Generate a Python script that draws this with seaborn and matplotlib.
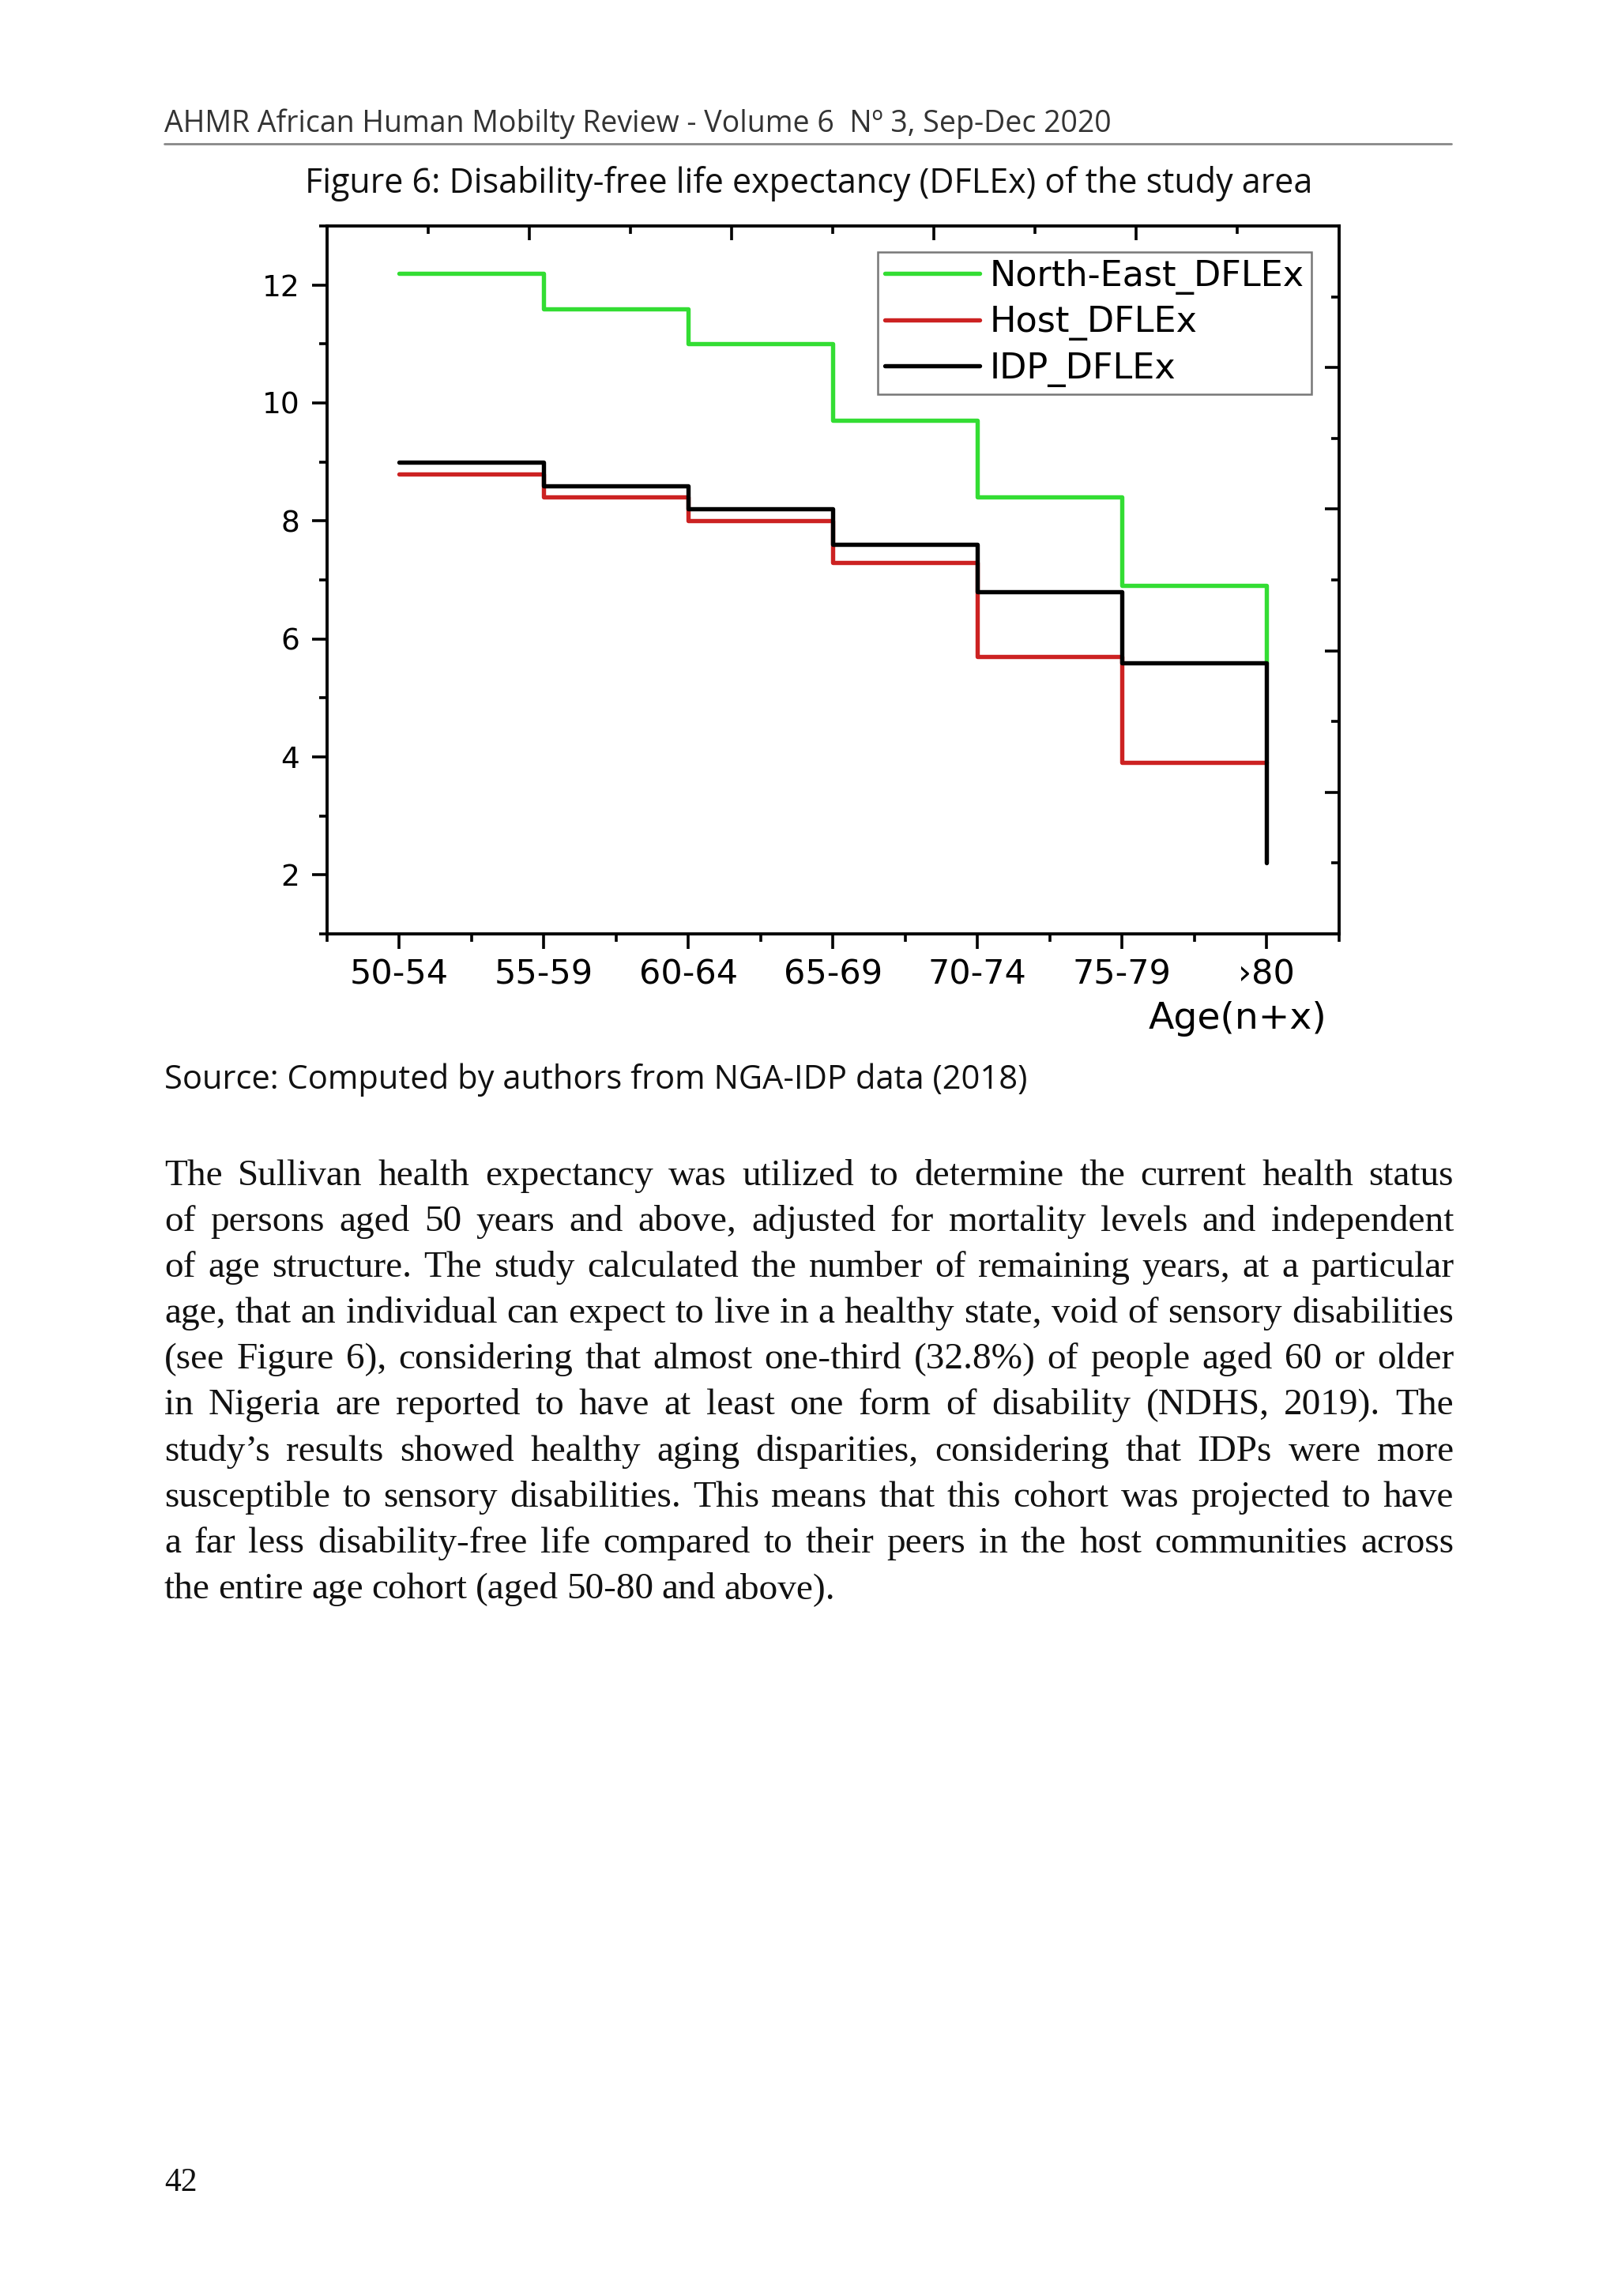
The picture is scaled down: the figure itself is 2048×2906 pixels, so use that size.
import numpy as np
import pandas as pd
import matplotlib
matplotlib.use("Agg")
import matplotlib.pyplot as plt
import seaborn as sns
from matplotlib.lines import Line2D
from matplotlib.ticker import FixedLocator, MultipleLocator

# ---------------- data ----------------
age_groups = ["50-54", "55-59", "60-64", "65-69", "70-74", "75-79", "›80"]
north_east_dflex = [12.2, 11.6, 11.0, 9.7, 8.4, 6.9, 5.6]
host_dflex = [8.8, 8.4, 8.0, 7.3, 5.7, 3.9, 3.9]
idp_dflex = [9.0, 8.6, 8.2, 7.6, 6.8, 5.6, 2.2]
series_names = ["North-East_DFLEx", "Host_DFLEx", "IDP_DFLEx"]
series_colors = ["#33dd33", "#cc2222", "#000000"]
y_ticks = [2, 4, 6, 8, 10, 12]

header_text = "AHMR African Human Mobilty Review - Volume 6  N\u00ba 3, Sep-Dec 2020"
caption_text = "Figure 6: Disability-free life expectancy (DFLEx) of the study area"
source_text = "Source: Computed by authors from NGA-IDP data (2018)"
x_axis_label = "Age(n+x)"
page_number = "42"
body_lines = [
    "The Sullivan health expectancy was utilized to determine the current health status",
    "of persons aged 50 years and above, adjusted for mortality levels and independent",
    "of age structure. The study calculated the number of remaining years, at a particular",
    "age, that an individual can expect to live in a healthy state, void of sensory disabilities",
    "(see Figure 6), considering that almost one-third (32.8%) of people aged 60 or older",
    "in Nigeria are reported to have at least one form of disability (NDHS, 2019). The",
    "study\u2019s results showed healthy aging disparities, considering that IDPs were more",
    "susceptible to sensory disabilities. This means that this cohort was projected to have",
    "a far less disability-free life compared to their peers in the host communities across",
    "the entire age cohort (aged 50-80 and above).",
]

# ---------------- figure ----------------
sns.set_style("white")
plt.rcParams["font.family"] = ["DejaVu Sans"]
plt.rcParams["text.color"] = "black"
plt.rcParams["xtick.color"] = "black"
plt.rcParams["ytick.color"] = "black"
plt.rcParams["axes.labelcolor"] = "black"
W, H, DPI = 2048, 2906, 100
fig = plt.figure(figsize=(W / DPI, H / DPI), dpi=DPI, facecolor="white")
renderer = fig.canvas.get_renderer()

def fx(px):
    return px / W

def fy(py):
    return 1 - py / H

# chart axes
ax = fig.add_axes([fx(414), fy(1182), fx(1694.5) - fx(414), fy(286) - fy(1182)])

rows = []
for name, vals in zip(series_names, [north_east_dflex, host_dflex, idp_dflex]):
    for i, v in enumerate(vals):
        rows.append({"pos": i, "age": age_groups[i], "value": v, "series": name})
df = pd.DataFrame(rows)

sns.lineplot(data=df, x="pos", y="value", hue="series", hue_order=series_names,
             palette=dict(zip(series_names, series_colors)), drawstyle="steps-post",
             linewidth=3.9, sort=False, ax=ax, legend=True)

ax.set_xlim(-0.5, 6.5)
ax.set_ylim(1, 13)
ax.set_xticks(range(len(age_groups)))
ax.set_xticklabels(age_groups, fontsize=31)
ax.xaxis.set_minor_locator(FixedLocator(np.arange(-0.5, 7.0, 1.0)))
ax.set_yticks(y_ticks)
ax.set_yticklabels([str(t) for t in y_ticks], fontsize=27)
ax.yaxis.set_minor_locator(MultipleLocator(1))
ax.set_xlabel("")
ax.set_ylabel("")
ax.tick_params(axis="both", which="major", direction="out", length=14, width=2.6,
               color="black", labelcolor="black", pad=8)
ax.tick_params(axis="y", which="major", pad=11)
ax.tick_params(axis="both", which="minor", direction="out", length=7, width=2.6,
               color="black")
ax.tick_params(left=True, bottom=True, which="both")
for s in ax.spines.values():
    s.set_linewidth(2.8)
    s.set_color("black")

# inward ticks on right and top (secondary scales)
axr = ax.twinx()
axr.set_ylim(ax.get_ylim())
axr.yaxis.set_major_locator(FixedLocator([3.4, 5.8, 8.2, 10.6]))
axr.yaxis.set_minor_locator(FixedLocator([2.2, 4.6, 7.0, 9.4, 11.8]))
axr.set_yticklabels([])
axr.tick_params(axis="y", which="major", direction="in", length=13, width=2.6, right=True)
axr.tick_params(axis="y", which="minor", direction="in", length=7, width=2.6, right=True)
axt = ax.twiny()
axt.set_xlim(ax.get_xlim())
axt.xaxis.set_major_locator(FixedLocator([0.9, 2.3, 3.7, 5.1]))
axt.xaxis.set_minor_locator(FixedLocator([0.2, 1.6, 3.0, 4.4, 5.8]))
axt.set_xticklabels([])
axt.tick_params(axis="x", which="major", direction="in", length=13, width=2.6, top=True)
axt.tick_params(axis="x", which="minor", direction="in", length=7, width=2.6, top=True)
for a in (axr, axt):
    for s in a.spines.values():
        s.set_visible(False)

# legend
handles, labels = ax.get_legend_handles_labels()
leg = ax.legend(handles, labels, loc="upper right", bbox_to_anchor=(0.973, 0.963),
                fontsize=32, frameon=True, fancybox=False, edgecolor="#555555",
                handlelength=2.7, handletextpad=0.3, labelspacing=0.3,
                borderpad=0.2, borderaxespad=0)
leg.get_frame().set_linewidth(1.8)
for h in leg.get_lines():
    h.set_linewidth(3.9)
for t in leg.get_texts():
    t.set_color("black")

fig.text(fx(1679), fy(1290), x_axis_label, ha="right", va="center", fontsize=34,
         color="black")

# ---------------- page text ----------------
sans = ["Open Sans", "DejaVu Sans"]
fig.text(fx(208), fy(167), header_text, ha="left", va="baseline", fontsize=27,
         family=sans, color="#333333")
fig.add_artist(Line2D([fx(208), fx(1837)], [fy(182), fy(182)], color="#888888", lw=2))
fig.text(fx(1024), fy(244), caption_text, ha="center", va="baseline", fontsize=31,
         family=sans, color="#111111")
fig.text(fx(208), fy(1378), source_text, ha="left", va="baseline", fontsize=30,
         family=sans, color="#111111")

# justified body paragraph
serif = ["Liberation Serif", "DejaVu Serif"]
x0, x1 = 208, 1840
base0, dy = 1500, 58.1
body_size = 34.0

def measure_words(words, size):
    ws = []
    for w in words:
        t = fig.text(0, 0, w, fontsize=size, family=serif)
        ws.append(t.get_window_extent(renderer).width)
        t.remove()
    return ws

# shrink font only if the tightest line cannot fit with minimal spacing
for _ in range(16):
    ok = True
    for line in body_lines[:-1]:
        words = line.split()
        ws = measure_words(words, body_size)
        min_gap = 0.12 * body_size * DPI / 72
        if sum(ws) + min_gap * (len(words) - 1) > (x1 - x0):
            ok = False
            break
    if ok:
        break
    body_size -= 0.25

for i, line in enumerate(body_lines):
    words = line.split()
    ws = measure_words(words, body_size)
    if i < len(body_lines) - 1:
        gap = ((x1 - x0) - sum(ws)) / (len(words) - 1)
    else:
        gap = 0.22 * body_size * DPI / 72
    x = x0
    yb = base0 + i * dy
    for w, wd in zip(words, ws):
        fig.text(fx(x), fy(yb), w, ha="left", va="baseline", fontsize=body_size,
                 family=serif, color="#111111")
        x += wd + gap

fig.text(fx(208), fy(2773), page_number, ha="left", va="baseline", fontsize=30,
         family=serif, color="#111111")

fig.savefig("out.png", dpi=DPI, facecolor="white")
